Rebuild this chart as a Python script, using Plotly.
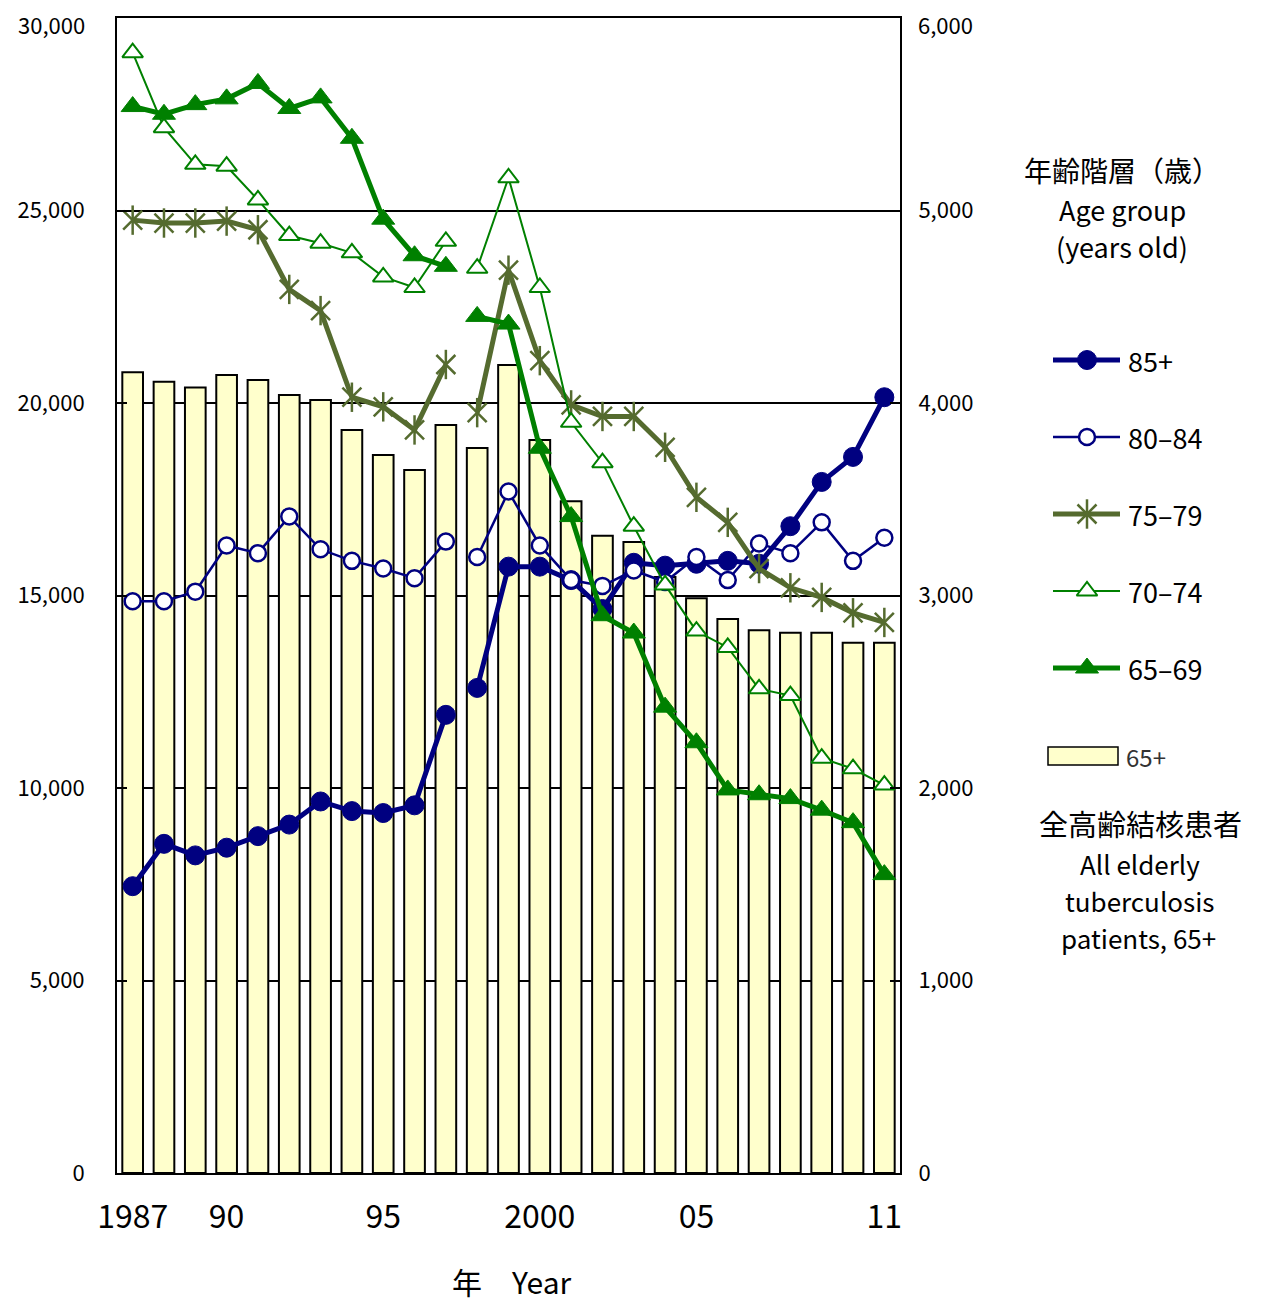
import plotly.graph_objects as go

# ---------------- data ----------------
years = list(range(1987, 2012))
tick_years = [1987, 1990, 1995, 2000, 2005, 2011]
tick_text = ["1987", "90", "95", "2000", "05", "11"]
left_ticks = [0, 5000, 10000, 15000, 20000, 25000, 30000]
right_ticks = [0, 1000, 2000, 3000, 4000, 5000, 6000]

all_65plus = [20800, 20550, 20400, 20730, 20600, 20210, 20080, 19300, 18650, 18260,
              19430, 18830, 20990, 19040, 17450, 16550, 16390, 15480, 14930, 14390,
              14100, 14030, 14030, 13770, 13770]

age_85plus = [1490, 1710, 1650, 1690, 1750, 1810, 1930, 1880, 1870, 1910,
              2380, 2520, 3150, 3150, 3080, 2930, 3170, 3155, 3165, 3180,
              3165, 3360, 3590, 3720, 4030]

age_80_84 = [2970, 2970, 3020, 3260, 3220, 3410, 3240, 3180, 3140, 3090,
             3280, 3200, 3540, 3260, 3080, 3050, 3130, 3070, 3200, 3080,
             3270, 3220, 3380, 3180, 3300]

age_75_79 = [4950, 4935, 4935, 4945, 4900, 4590, 4480, 4030, 3980, 3860,
             4200, 3950, 4690, 4220, 3990, 3930, 3930, 3770, 3510, 3380,
             3140, 3040, 2990, 2910, 2860]

age_70_74 = [5820, 5430, 5240, 5230, 5055, 4870, 4830, 4780, 4655, 4600,
             4840, 4700, 5170, 4600, 3900, 3690, 3360, 3055, 2815, 2730,
             2515, 2480, 2155, 2100, 2015]

age_65_69 = [5540, 5500, 5550, 5580, 5660, 5530, 5585, 5375, 4955, 4765,
             4710, 4450, 4410, 3765, 3410, 2895, 2805, 2420, 2235, 1990,
             1965, 1945, 1885, 1820, 1550]

series_names = ["85+", "80\u201384", "75\u201379", "70\u201374", "65\u201369"]
bar_name = "65+"

# break in the series between 1997 and 1998
segments = [(0, 11), (11, 25)]

# ---------------- styles ----------------
NAVY = "#000080"
GREEN = "#008000"
OLIVE = "#556B2F"
FONT = "Noto Sans CJK JP"

styles = [
    dict(lw=5, marker=dict(symbol="circle", size=19, color=NAVY, line=dict(color=NAVY, width=1)), color=NAVY),
    dict(lw=2.5, marker=dict(symbol="circle", size=16, color="white", line=dict(color=NAVY, width=2.5)), color=NAVY),
    dict(lw=5, marker=dict(symbol="x-thin-open", size=19, color=OLIVE, line=dict(color=OLIVE, width=2.5)), color=OLIVE),
    dict(lw=2, marker=dict(symbol="triangle-up", size=18, color="white", line=dict(color=GREEN, width=2)), color=GREEN),
    dict(lw=5, marker=dict(symbol="triangle-up", size=20, color=GREEN, line=dict(color=GREEN, width=1)), color=GREEN),
]
series_values = [age_85plus, age_80_84, age_75_79, age_70_74, age_65_69]

fig = go.Figure()

# bars (left axis)
fig.add_trace(go.Bar(
    x=years, y=all_65plus, name=bar_name, width=0.66,
    marker=dict(color="#FFFFCC", line=dict(color="black", width=2)),
    xaxis="x", yaxis="y",
))

# lines (right axis)
for name, vals, st in zip(series_names, series_values, styles):
    for a, b in segments:
        fig.add_trace(go.Scatter(
            x=years[a:b], y=vals[a:b], name=name, mode="lines+markers",
            line=dict(color=st["color"], width=st["lw"]),
            marker=st["marker"], xaxis="x", yaxis="y2", cliponaxis=False,
        ))
        if name == "75\u201379":
            fig.add_trace(go.Scatter(
                x=years[a:b], y=vals[a:b], name=name, mode="markers",
                marker=dict(symbol="line-ns-open", size=21, color=OLIVE,
                            line=dict(color=OLIVE, width=2.5)),
                xaxis="x", yaxis="y2", cliponaxis=False,
            ))

# ---------------- custom legend (pixel-like coordinates on hidden axes) ----------------
leg_y = [360, 437, 514, 591, 668]
for name, st, yy in zip(series_names, styles, leg_y):
    fig.add_trace(go.Scatter(
        x=[1053, 1120], y=[yy, yy], mode="lines",
        line=dict(color=st["color"], width=st["lw"]),
        xaxis="x3", yaxis="y3", hoverinfo="skip",
    ))
    fig.add_trace(go.Scatter(
        x=[1087], y=[yy], mode="markers", marker=st["marker"],
        xaxis="x3", yaxis="y3", hoverinfo="skip",
    ))
    if name == "75\u201379":
        fig.add_trace(go.Scatter(
            x=[1087], y=[yy], mode="markers",
            marker=dict(symbol="line-ns-open", size=21, color=OLIVE, line=dict(color=OLIVE, width=2.5)),
            xaxis="x3", yaxis="y3", hoverinfo="skip",
        ))

annotations = []
def ann(text, x, y, size, xanchor="center", color="black", ref=("x3", "y3")):
    annotations.append(dict(text=text, x=x, y=y, xref=ref[0], yref=ref[1],
                            xanchor=xanchor, yanchor="middle", showarrow=False,
                            font=dict(size=size, color=color, family=FONT)))

ann("年齢階層（歳）", 1122, 170, 28)
ann("Age group", 1122, 209, 27)
ann("(years old)", 1122, 246, 27)
for name, yy in zip(series_names, leg_y):
    ann(name, 1126, yy, 27, xanchor="left")
ann(bar_name, 1124, 756, 24, xanchor="left", color="#333333")
ann("全高齢結核患者", 1140, 823, 29)
ann("All elderly", 1140, 863, 26)
ann("tuberculosis", 1140, 900, 26)
ann("patients, 65+", 1138, 937, 26)

# page offset (browser body margin) compensation
OFF = 8
FIG_W = 1270 - OFF
FIG_H = 1304 - OFF
W_PAPER = FIG_W - (117 - OFF)
H_PAPER = 1173 - 18
X_RIGHT = 783 / W_PAPER

annotations.append(dict(text="年　Year", x=(512 - 117) / W_PAPER, y=(1173 - 1281) / H_PAPER,
                        xref="paper", yref="paper", xanchor="center", yanchor="middle",
                        showarrow=False, font=dict(size=30, family=FONT, color="black")))

# top tick labels, drawn slightly lower so they stay inside the page
annotations.append(dict(text=f"{left_ticks[-1]:,}", x=0, y=1, xref="paper", yref="paper",
                        xanchor="right", yanchor="middle", xshift=-30, yshift=-6,
                        showarrow=False, font=dict(size=22, family=FONT, color="black")))
annotations.append(dict(text=f"{right_ticks[-1]:,}", x=X_RIGHT, y=1, xref="paper", yref="paper",
                        xanchor="left", yanchor="middle", xshift=16, yshift=-6,
                        showarrow=False, font=dict(size=22, family=FONT, color="black")))

shapes = [dict(type="rect", xref="x3", yref="y3", x0=1048, x1=1118, y0=747, y1=765,
               fillcolor="#FFFFCC", line=dict(color="black", width=1.5))]

fig.update_layout(
    width=FIG_W, height=FIG_H,
    margin=dict(l=117 - OFF, r=0, t=18 - OFF, b=FIG_H - (18 - OFF) - H_PAPER, autoexpand=False),
    plot_bgcolor="white", paper_bgcolor="white",
    showlegend=False,
    font=dict(family=FONT, color="black"),
    annotations=annotations, shapes=shapes,
    xaxis=dict(domain=[0, X_RIGHT], range=[1986.5, 2011.5],
               tickmode="array", tickvals=tick_years, ticktext=tick_text,
               tickfont=dict(size=32, family=FONT), ticks="", ticklabelstandoff=15,
               showline=True, linecolor="black", linewidth=2, mirror=True,
               showgrid=False, zeroline=False, anchor="y"),
    yaxis=dict(range=[0, 30000], tickmode="array", tickvals=left_ticks,
               ticktext=[f"{v:,}" if v != left_ticks[-1] else "" for v in left_ticks],
               showgrid=True, gridcolor="black", gridwidth=2,
               showline=True, linecolor="black", linewidth=2,
               ticks="inside", ticklen=10, tickwidth=2, tickcolor="black",
               tickfont=dict(size=22, family=FONT), ticklabelstandoff=26,
               zeroline=False, anchor="x"),
    yaxis2=dict(range=[0, 6000], tickmode="array", tickvals=right_ticks,
                ticktext=[f"{v:,}" if v != right_ticks[-1] else "" for v in right_ticks],
                overlaying="y", side="right", anchor="x",
                showgrid=False, showline=True, linecolor="black", linewidth=2,
                ticks="inside", ticklen=10, tickwidth=2, tickcolor="black",
                tickfont=dict(size=22, family=FONT), ticklabelstandoff=12,
                zeroline=False),
    xaxis3=dict(domain=[(940 - 117) / W_PAPER, 1], range=[940, 1270], visible=False,
                anchor="y3", fixedrange=True),
    yaxis3=dict(domain=[0, 1], range=[1173, 18], visible=False, anchor="x3", fixedrange=True),
)

fig.write_html("out.html")
